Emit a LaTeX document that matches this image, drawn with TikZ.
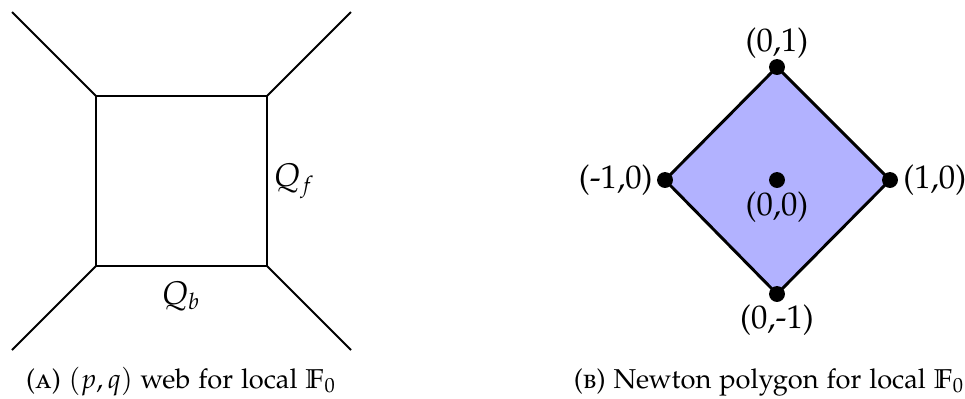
\documentclass[tikz,border=0pt]{standalone}
\usepackage[T1]{fontenc}
\usepackage{amssymb}
\usepackage[sc]{mathpazo}
\begin{document}
\begin{tikzpicture}[x=0.44pt,y=-0.44pt,
  web/.style={line width=0.85pt},
  poly/.style={draw=black,line width=1.3pt,line join=round},
  dot/.style={circle,fill=black,inner sep=0pt,minimum size=7pt},
  lbl/.style={font=\Large,inner sep=0pt},
  captext/.style={font=\large,inner sep=0pt}]
\useasboundingbox (0,0) rectangle (965,398);
% (p,q) web
\coordinate (tl) at (96,96);
\coordinate (tr) at (267,96);
\coordinate (bl) at (96,266);
\coordinate (br) at (267,266);
\coordinate (etl) at (12,12);
\coordinate (etr) at (351,12);
\coordinate (ebl) at (12,350);
\coordinate (ebr) at (351,350);
\draw[web,line join=miter] (tl) -- (tr) -- (br) -- (bl) -- cycle;
\draw[web] (tl) -- (etl);
\draw[web] (tr) -- (etr);
\draw[web] (bl) -- (ebl);
\draw[web] (br) -- (ebr);
\node[lbl] (qf) at (294,181) {$Q_f$};
\node[lbl] (qb) at (181,296) {$Q_b$};
% Newton polygon
\coordinate (pt) at (777,67);
\coordinate (pl) at (665,180);
\coordinate (pr) at (890,180);
\coordinate (pb) at (777,294);
\fill[blue!30] (pt) -- (pr) -- (pb) -- (pl) -- cycle;
\draw[poly] (pt) -- (pr) -- (pb) -- (pl) -- cycle;
\node[dot] (dt) at (pt) {};
\node[dot] (dl) at (pl) {};
\node[dot] (dr) at (pr) {};
\node[dot] (db) at (pb) {};
\node[dot] (dc) at (777,180) {};
\node[lbl] (l01) at (777,43) {(0,1)};
\node[lbl,anchor=east] (lm10) at (653,180) {(-1,0)};
\node[lbl,anchor=west] (l10) at (903,180) {(1,0)};
\node[lbl] (l00) at (777,207) {(0,0)};
\node[lbl] (l0m1) at (777,320) {(0,-1)};
% captions
\node[captext,anchor=base] (capa) at (181,388) {\textsc{(a)} $(p,q)$ web for local $\mathbb{F}_0$};
\node[captext,anchor=base] (capb) at (769,388) {\textsc{(b)} Newton polygon for local $\mathbb{F}_0$};
\end{tikzpicture}
\end{document}
